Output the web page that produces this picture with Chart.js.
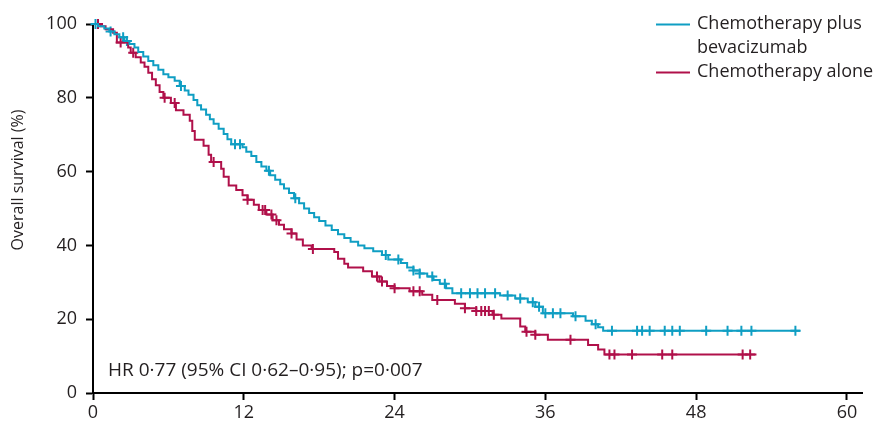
<!DOCTYPE html>
<html>
<head>
<meta charset="utf-8">
<script src="https://cdn.jsdelivr.net/npm/chart.js@4"></script>
<style>
  html, body { margin: 0; padding: 0; background: #fff; }
  #wrap { width: 880px; height: 421px; }
</style>
</head>
<body>
<div id="wrap"><canvas id="km"></canvas></div>
<script>
// Kaplan-Meier steps (months, % alive after the step)
var blueTimes = [0, 0.4, 0.9, 1.3, 1.7, 2.1, 2.5, 2.9, 3.3, 3.6, 4.0, 4.4, 4.8, 5.2, 5.6, 6.0, 6.5, 6.9, 7.3, 7.6,
  8.0, 8.3, 8.6, 9.0, 9.3, 9.6, 10.0, 10.4, 10.7, 11.0, 11.9, 12.2, 12.6, 13.0, 13.4, 13.8, 14.1, 14.5, 14.9, 15.2,
  15.6, 16.0, 16.4, 16.8, 17.2, 17.6, 18.0, 18.5, 19.0, 19.5, 20.0, 20.5, 21.1, 21.6, 22.3, 23.0, 23.5, 24.5, 25.0, 25.5,
  26.0, 26.6, 27.1, 27.6, 28.1, 28.6, 32.4, 33.6, 34.6, 35.2, 35.8, 38.2, 39.2, 39.7, 40.2, 40.6, 56.3];
var blueSurv = [100, 99.4, 98.8, 98.0, 97.2, 96.4, 95.4, 94.6, 93.6, 92.4, 91.2, 90.0, 88.8, 87.6, 86.4, 85.6, 84.6, 83.2, 82.0, 80.8,
  79.4, 78.0, 76.8, 75.4, 74.2, 73.0, 71.6, 70.2, 68.8, 67.4, 66.6, 65.4, 64.2, 62.6, 61.4, 60.2, 59.0, 57.8, 56.6, 55.4,
  54.2, 52.8, 51.4, 50.0, 48.8, 47.6, 46.6, 45.4, 44.2, 43.0, 42.0, 41.0, 40.0, 39.2, 38.4, 37.4, 36.2, 35.2, 34.0, 33.2,
  32.4, 31.6, 30.6, 29.6, 28.4, 27.0, 26.4, 25.6, 24.6, 23.4, 21.6, 20.8, 19.6, 18.6, 17.8, 16.9, 16.9];
var blueCensor = [0.2, 1.4, 2.4, 2.7, 7.0, 11.3, 11.7, 14.0, 16.1, 23.3, 24.3, 25.5, 26.0, 27.0, 28.0, 29.3, 30.0, 30.6, 31.2,
  32.0, 33.0, 34.0, 35.0, 35.5, 36.0, 36.6, 37.2, 38.4, 40.0, 41.3, 43.3, 43.7, 44.3, 45.5, 46.1, 46.7, 48.8, 50.5, 51.6, 52.4, 55.9];

var redTimes = [0, 0.6, 1.0, 1.6, 1.9, 2.8, 3.0, 3.4, 3.8, 4.1, 4.4, 4.7, 5.0, 5.3, 5.6, 6.2, 6.6, 7.2, 7.7, 7.9,
  8.1, 8.8, 9.2, 9.4, 10.2, 10.4, 10.8, 11.4, 11.9, 12.3, 12.8, 13.2, 13.8, 14.3, 14.8, 15.2, 15.8, 16.2, 16.7, 17.4,
  19.2, 19.5, 20.0, 20.3, 21.5, 22.2, 22.8, 23.4, 24.0, 25.2, 26.2, 27.0, 28.8, 29.6, 30.5, 31.8, 32.5, 34.0, 34.4, 35.2,
  36.2, 39.4, 40.2, 40.7, 52.8];
var redSurv = [100, 99.4, 98.6, 97.6, 95.0, 93.6, 92.2, 91.0, 89.6, 88.4, 86.8, 85.0, 83.4, 81.6, 80.0, 78.6, 76.6, 75.4, 73.8, 71.0,
  68.6, 67.0, 64.6, 62.6, 60.8, 58.6, 56.2, 55.0, 53.6, 52.4, 51.0, 49.6, 48.4, 46.8, 45.6, 44.4, 43.2, 41.6, 40.0, 39.0,
  38.2, 36.4, 35.0, 34.0, 33.0, 31.6, 30.2, 29.0, 28.4, 27.6, 26.6, 25.2, 24.2, 23.0, 22.2, 21.2, 20.2, 18.0, 16.6, 15.8,
  14.4, 13.0, 11.8, 10.4, 10.4];
var redCensor = [0.4, 2.2, 3.2, 5.7, 6.5, 9.6, 12.3, 13.5, 13.7, 14.2, 14.6, 15.8, 17.5, 22.6, 23.0, 24.0, 25.5, 26.0, 27.4,
  29.6, 30.5, 30.9, 31.2, 31.5, 31.9, 34.5, 35.2, 38.0, 41.1, 41.5, 42.9, 45.3, 46.1, 51.7, 52.3];

var xTicks = [0, 12, 24, 36, 48, 60];
var yTicks = [0, 20, 40, 60, 80, 100];

var BLUE = '#0f9ec3';
var RED = '#b0104a';
var INK = '#231f20';
var FONT = '"Open Sans", "DejaVu Sans", sans-serif';

function steps(times, surv) {
  return times.map(function (t, i) { return {x: t, y: surv[i]}; });
}
// survival at a censoring time = last step at or before it
function censorPoints(censor, times, surv) {
  return censor.map(function (c) {
    var v = surv[0];
    for (var i = 0; i < times.length; i++) { if (times[i] <= c) v = surv[i]; }
    return {x: c, y: v};
  });
}

var textPlugin = {
  id: 'kmText',
  afterDraw: function (chart) {
    var ctx = chart.ctx;
    ctx.save();
    ctx.fillStyle = INK;
    ctx.textBaseline = 'middle';
    ctx.textAlign = 'left';
    // legend
    ctx.lineWidth = 2;
    ctx.strokeStyle = BLUE;
    ctx.beginPath(); ctx.moveTo(656, 24.5); ctx.lineTo(690, 24.5); ctx.stroke();
    ctx.strokeStyle = RED;
    ctx.beginPath(); ctx.moveTo(656, 72.5); ctx.lineTo(690, 72.5); ctx.stroke();
    ctx.font = '18px ' + FONT;
    ctx.fillText('Chemotherapy plus', 697, 24);
    ctx.fillText('bevacizumab', 697, 48);
    ctx.fillText('Chemotherapy alone', 697, 72);
    // hazard ratio
    ctx.font = '19px ' + FONT;
    ctx.fillText('HR 0\u00b777 (95% CI 0\u00b762\u20130\u00b795); p=0\u00b7007', 108, 371);
    // y title
    ctx.font = '16px ' + FONT;
    ctx.translate(18, 180);
    ctx.rotate(-Math.PI / 2);
    ctx.textAlign = 'center';
    ctx.fillText('Overall survival (%)', 0, 0);
    ctx.restore();
  }
};

new Chart(document.getElementById('km'), {
  type: 'line',
  data: {
    datasets: [
      {label: 'Chemotherapy plus bevacizumab', data: steps(blueTimes, blueSurv), borderColor: BLUE,
        borderWidth: 2, stepped: true, pointRadius: 0, fill: false, clip: false},
      {label: 'Chemotherapy alone', data: steps(redTimes, redSurv), borderColor: RED,
        borderWidth: 2, stepped: true, pointRadius: 0, fill: false, clip: false},
      {type: 'scatter', label: 'blue censored', data: censorPoints(blueCensor, blueTimes, blueSurv),
        pointStyle: 'cross', pointRadius: 5, borderColor: BLUE, borderWidth: 2, showLine: false, clip: false},
      {type: 'scatter', label: 'red censored', data: censorPoints(redCensor, redTimes, redSurv),
        pointStyle: 'cross', pointRadius: 5, borderColor: RED, borderWidth: 2, showLine: false, clip: false}
    ]
  },
  options: {
    responsive: true,
    maintainAspectRatio: false,
    animation: false,
    events: [],
    layout: {padding: {top: 24, right: 18, left: 0, bottom: 0}},
    plugins: {legend: {display: false}, tooltip: {enabled: false}},
    scales: {
      x: {
        type: 'linear', min: 0, max: 61.2,
        afterBuildTicks: function (s) { s.ticks = xTicks.map(function (v) { return {value: v}; }); },
        afterFit: function (s) { s.height = 28; },
        border: {color: '#000', width: 2},
        grid: {drawOnChartArea: false, tickLength: 7, tickColor: '#000', tickWidth: 2},
        ticks: {color: INK, font: {family: FONT, size: 18}, padding: 2, maxRotation: 0, autoSkip: false}
      },
      y: {
        min: 0, max: 100,
        afterBuildTicks: function (s) { s.ticks = yTicks.map(function (v) { return {value: v}; }); },
        afterFit: function (s) { s.width = 93; },
        border: {color: '#000', width: 2},
        grid: {drawOnChartArea: false, tickLength: 7, tickColor: '#000', tickWidth: 2},
        ticks: {color: INK, font: {family: FONT, size: 18}, padding: 9}
      }
    }
  },
  plugins: [textPlugin]
});
</script>
</body>
</html>
